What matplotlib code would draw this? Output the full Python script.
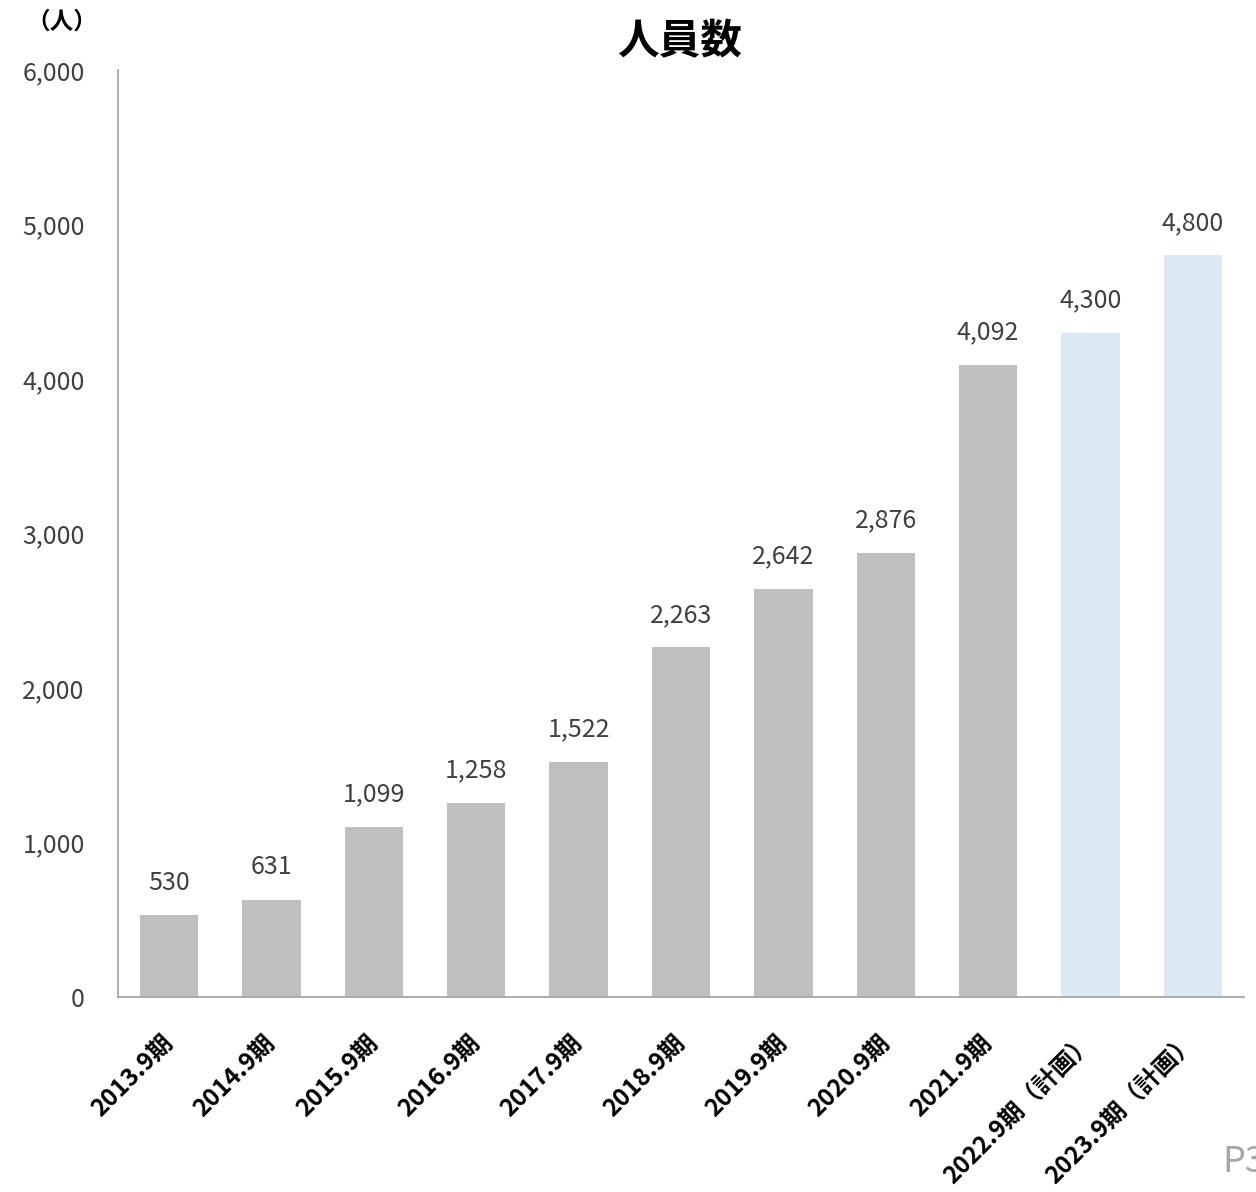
import matplotlib
matplotlib.use("Agg")
import matplotlib.pyplot as plt
from matplotlib.ticker import FuncFormatter

plt.rcParams['font.family'] = ['Noto Sans CJK JP', 'DejaVu Sans']

categories = ["2013.9期", "2014.9期", "2015.9期", "2016.9期", "2017.9期", "2018.9期",
              "2019.9期", "2020.9期", "2021.9期", "2022.9期（計画）", "2023.9期（計画）"]
values = [530, 631, 1099, 1258, 1522, 2263, 2642, 2876, 4092, 4300, 4800]
is_plan = [False] * 9 + [True, True]
y_ticks = [0, 1000, 2000, 3000, 4000, 5000, 6000]

fig = plt.figure(figsize=(12.56, 11.92), dpi=100)
ax = fig.add_axes([118/1256, 1 - 997/1192, 1126/1256, 927/1192])

colors = ["#dde8f5" if p else "#bfbfbf" for p in is_plan]
x = range(len(categories))
ax.bar(x, values, width=0.57, color=colors, zorder=2)

for xi, v in zip(x, values):
    ax.annotate(f"{v:,}", (xi, v), xytext=(0, 14), textcoords="offset points",
                ha="center", va="bottom", fontsize=18, color="#404040")

ax.set_xlim(-0.5, len(categories) - 0.5)
ax.set_ylim(0, 6000)
ax.set_yticks(y_ticks)
ax.yaxis.set_major_formatter(FuncFormatter(lambda v, p: f"{int(v):,}"))
ax.tick_params(axis="y", length=0, labelsize=18, labelcolor="#404040", pad=24)
ax.set_xticks(list(x))
ax.set_xticklabels(categories, rotation=45, ha="right", va="center",
                   rotation_mode="anchor",
                   fontsize=17.5, fontweight="bold", color="black")
ax.tick_params(axis="x", length=0, pad=30)

for s in ["top", "right"]:
    ax.spines[s].set_visible(False)
for s in ["left", "bottom"]:
    ax.spines[s].set_color("#a6a6a6")
    ax.spines[s].set_linewidth(1.3)

fig.text(680/1256, 1 - 42/1192, "人員数", ha="center", va="center",
         fontsize=30, fontweight="bold", color="black")
fig.text(62/1256, 1 - 22/1192, "（人）", ha="center", va="center",
         fontsize=17, fontweight="bold", color="black")
fig.text(1222/1256, 1 - 1162/1192, "P3", ha="left", va="center",
         fontsize=26, color="#a6a6a6", clip_on=False)

fig.savefig("out.png", dpi=100)
